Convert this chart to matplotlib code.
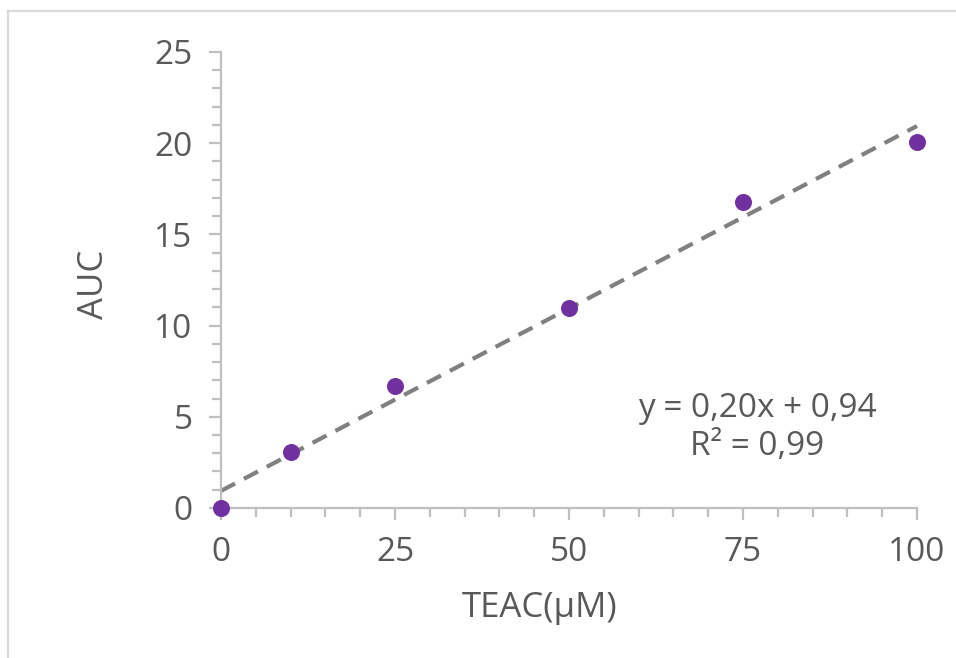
import matplotlib
matplotlib.use("Agg")
import matplotlib.pyplot as plt
import numpy as np
from matplotlib.ticker import MultipleLocator, FixedLocator

# Data
teac = [0, 10, 25, 50, 75, 100]
auc = [0.0, 3.07, 6.69, 10.96, 16.75, 20.07]
slope = 0.20
intercept = 0.94
r2 = 0.99
x_ticks = [0, 25, 50, 75, 100]
y_ticks = [0, 5, 10, 15, 20, 25]

plt.rcParams['font.family'] = ['Open Sans', 'DejaVu Sans']
text_color = '#595959'
axis_color = '#bfbfbf'

fig = plt.figure(figsize=(9.56, 6.58), dpi=100)
ax = fig.add_axes([0.2312, 0.228, 0.728, 0.693])

# Trendline
xl = np.array([teac[0], teac[-1]])
ax.plot(xl, slope * xl + intercept, color='#808080', lw=3, dashes=(3.8, 2.4),
        solid_capstyle='butt', dash_capstyle='butt', zorder=2, clip_on=False)
ax.scatter(teac, auc, s=150, color='#7030a0', zorder=3, clip_on=False, linewidths=0)

ax.set_xlim(0, 100)
ax.set_ylim(0, 25)
ax.xaxis.set_major_locator(FixedLocator(x_ticks))
ax.yaxis.set_major_locator(FixedLocator(y_ticks))
ax.xaxis.set_minor_locator(MultipleLocator(5))
ax.yaxis.set_minor_locator(MultipleLocator(1))

for s in ['top', 'right']:
    ax.spines[s].set_visible(False)
for s in ['left', 'bottom']:
    ax.spines[s].set_color(axis_color)
    ax.spines[s].set_linewidth(1.6)

ax.tick_params(which='major', length=8.5, width=1.6, color=axis_color,
               labelsize=24, labelcolor=text_color, pad=12)
ax.tick_params(which='minor', length=6.5, width=1.6, color=axis_color)

ax.set_xlabel('TEAC(µM)', fontsize=25, color=text_color)
ax.set_ylabel('AUC', fontsize=25, color=text_color)
ax.xaxis.set_label_coords((540 - 221) / 696, -(608 - 508) / 456, transform=ax.transAxes)
ax.yaxis.set_label_coords(-(221 - 94) / 696, 0.49, transform=ax.transAxes)
ax.xaxis.label.set_va('center')
ax.yaxis.label.set_va('center')

ax.text(77.0, 4.4, f'y = {slope:.2f}x + {intercept:.2f}'.replace('.', ',') + '\n' +
        f'R² = {r2:.2f}'.replace('.', ','),
        ha='center', va='center', fontsize=24, color=text_color, linespacing=1.2)

# Figure frame (top and left visible)
fig.add_artist(plt.Line2D([8/956, 1], [1 - 11/658, 1 - 11/658], transform=fig.transFigure,
                          color='#d9d9d9', lw=1.6))
fig.add_artist(plt.Line2D([8/956, 8/956], [0, 1 - 11/658], transform=fig.transFigure,
                          color='#d9d9d9', lw=1.6))

fig.savefig('out.png', dpi=100)
